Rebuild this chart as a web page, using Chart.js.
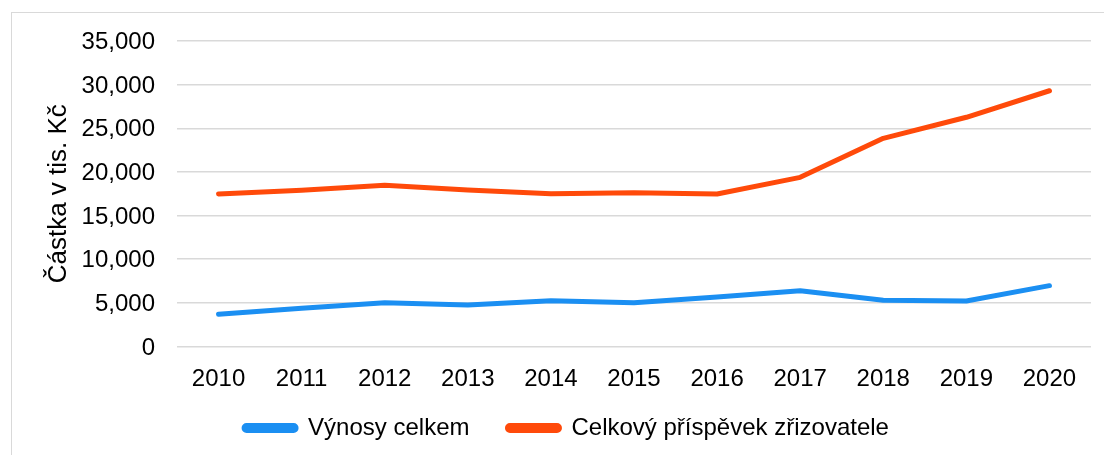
<!DOCTYPE html>
<html>
<head>
<meta charset="utf-8">
<script src="https://cdn.jsdelivr.net/npm/chart.js@4/dist/chart.umd.min.js"></script>
<style>
  html, body { margin: 0; padding: 0; background: #fff; overflow: hidden; }
  #frame { position: absolute; left: 11px; top: 12px; width: 1200px; height: 600px; border: 1px solid #d9d9d9; }
  #wrap { position: absolute; left: 0; top: 0; width: 1104px; height: 455px; }
</style>
</head>
<body>
<div id="frame"></div>
<div id="wrap"><canvas id="c" width="1104" height="455"></canvas></div>
<script>
const years = ['2010','2011','2012','2013','2014','2015','2016','2017','2018','2019','2020'];
const vynosyCelkem = [3690, 4370, 5020, 4750, 5250, 5020, 5670, 6390, 5290, 5210, 6970];
const prispevekZrizovatele = [17470, 17900, 18470, 17930, 17510, 17620, 17470, 19380, 23850, 26260, 29300];
const seriesNames = ['Výnosy celkem', 'Celkový příspěvek zřizovatele'];
const yAxisTitle = 'Částka v tis. Kč';
const yMin = 0, yMax = 35000, yStep = 5000;

const FONT = '"Liberation Sans", Arial, sans-serif';
const blue = '#1b8ff2';
const orange = '#ff4a0a';

// let the x-axis labels extend a bit below the axis box (they would be clipped otherwise)
const labelRoom = {
  id: 'labelRoom',
  afterLayout(chart) {
    const x = chart.scales.x;
    x.bottom += 14;
  }
};

new Chart(document.getElementById('c'), {
  type: 'line',
  data: {
    labels: years,
    datasets: [
      { label: seriesNames[0], data: vynosyCelkem, borderColor: blue, backgroundColor: blue },
      { label: seriesNames[1], data: prispevekZrizovatele, borderColor: orange, backgroundColor: orange }
    ]
  },
  plugins: [labelRoom],
  options: {
    responsive: false,
    animation: false,
    devicePixelRatio: 1,
    layout: { padding: { left: 42, right: 13, top: 41, bottom: 5 } },
    elements: {
      line: { borderWidth: 5, tension: 0, borderCapStyle: 'round', borderJoinStyle: 'round' },
      point: { radius: 0, hoverRadius: 0 }
    },
    plugins: {
      tooltip: { enabled: false },
      legend: {
        position: 'bottom',
        labels: {
          font: { family: FONT, size: 24 },
          color: '#000',
          boxWidth: 52,
          boxHeight: 5,
          padding: 38,
          useBorderRadius: true,
          borderRadius: 2.5
        }
      }
    },
    scales: {
      x: {
        offset: true,
        grid: { display: false },
        border: { display: false },
        ticks: { font: { family: FONT, size: 24 }, color: '#000', padding: 10, maxRotation: 0, autoSkip: false },
        afterFit: (s) => { s.height = 31.5; }
      },
      y: {
        min: yMin, max: yMax,
        grid: { color: '#d9d9d9', lineWidth: 1.5, drawTicks: false },
        border: { display: false },
        ticks: {
          stepSize: yStep,
          font: { family: FONT, size: 24 },
          color: '#000',
          padding: 22,
          labelOffset: 1.5,
          callback: (v) => v.toLocaleString('en-US')
        },
        title: {
          display: true,
          text: yAxisTitle,
          font: { family: FONT, size: 26 },
          color: '#000',
          padding: { top: 1, bottom: 4 }
        },
        afterFit: (s) => { s.width = 135; }
      }
    }
  }
});
</script>
</body>
</html>
